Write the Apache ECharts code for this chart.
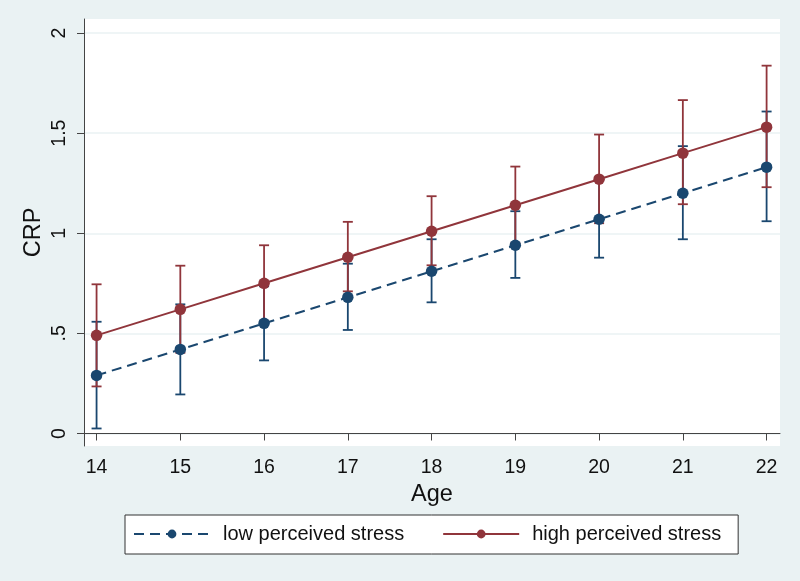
<!DOCTYPE html>
<html>
<head>
<meta charset="utf-8">
<script src="https://cdn.jsdelivr.net/npm/echarts@6/dist/echarts.min.js"></script>
<style>
  html, body { margin: 0; padding: 0; background: #eaf2f3; }
  #chart { width: 800px; height: 581px; }
</style>
</head>
<body>
<div id="chart"></div>
<script>
// data
const ages = [14, 15, 16, 17, 18, 19, 20, 21, 22]
const lowMean = [0.29, 0.42, 0.55, 0.68, 0.81, 0.94, 1.07, 1.20, 1.33]
const lowLower = [0.025, 0.195, 0.365, 0.517, 0.655, 0.777, 0.878, 0.97, 1.06]
const lowUpper = [0.558, 0.645, 0.735, 0.848, 0.97, 1.11, 1.268, 1.435, 1.608]
const highMean = [0.49, 0.62, 0.75, 0.88, 1.01, 1.14, 1.27, 1.40, 1.53]
const highLower = [0.235, 0.403, 0.56, 0.71, 0.84, 0.95, 1.05, 1.145, 1.23]
const highUpper = [0.745, 0.838, 0.94, 1.057, 1.185, 1.333, 1.493, 1.665, 1.837]
const yTicks = [0, 0.5, 1, 1.5, 2]

const navy = '#1a476f'
const maroon = '#90353b'
const font = 'Liberation Sans, Arial, Helvetica, sans-serif'

function capSeries(lower, upper, color) {
  return {
    type: 'custom',
    silent: true,
    z: 1,
    data: ages.map((a, i) => [a, lower[i], upper[i]]),
    renderItem(params, api) {
      const lo = api.coord([api.value(0), api.value(1)])
      const hi = api.coord([api.value(0), api.value(2)])
      const w = 5
      const style = { stroke: color, lineWidth: 1.8 }
      return {
        type: 'group',
        children: [
          { type: 'line', shape: { x1: lo[0], y1: lo[1], x2: hi[0], y2: hi[1] }, style },
          { type: 'line', shape: { x1: lo[0] - w, y1: lo[1], x2: lo[0] + w, y2: lo[1] }, style },
          { type: 'line', shape: { x1: hi[0] - w, y1: hi[1], x2: hi[0] + w, y2: hi[1] }, style }
        ]
      }
    }
  }
}

const chart = echarts.init(document.getElementById('chart'))
chart.setOption({
  backgroundColor: '#eaf2f3',
  animation: false,
  textStyle: { fontFamily: font },
  grid: {
    left: 84, top: 19, right: 20, bottom: 135,
    show: true, backgroundColor: '#fff', borderWidth: 0
  },
  legend: {
    data: ['low perceived stress', 'high perceived stress'],
    left: 125, top: 515,
    orient: 'horizontal',
    padding: [9, 17, 10, 8],
    itemWidth: 76, itemHeight: 11, itemGap: 38,
    backgroundColor: '#fff',
    borderColor: '#333', borderWidth: 1, borderRadius: 0,
    textStyle: { fontSize: 20, color: '#111', fontFamily: font, padding: [0, 0, 0, 8] }
  },
  xAxis: {
    type: 'value',
    min: 13.85, max: 22.16,
    name: 'Age', nameLocation: 'middle', nameGap: 33,
    nameTextStyle: { fontSize: 23.5, color: '#111' },
    axisLine: { show: true, lineStyle: { color: '#444', width: 1 } },
    axisTick: { show: true, length: 7, customValues: ages, lineStyle: { color: '#444' } },
    axisLabel: { customValues: ages, fontSize: 19.5, color: '#111', margin: 12 },
    splitLine: { show: false }
  },
  yAxis: {
    type: 'value',
    min: -0.0625, max: 2.07,
    name: 'CRP', nameLocation: 'middle', nameGap: 38, nameMoveOverlap: false,
    nameTextStyle: { fontSize: 23.5, color: '#111' },
    axisLine: { show: true, lineStyle: { color: '#444', width: 1 } },
    axisTick: { show: true, length: 7, customValues: yTicks, lineStyle: { color: '#444' } },
    axisLabel: {
      customValues: yTicks, fontSize: 19.5, color: '#111', margin: 14, rotate: 90,
      formatter: v => String(v).replace(/^0\./, '.')
    },
    splitLine: { show: true, lineStyle: { color: '#eaf2f3', width: 1.5 } }
  },
  series: [
    capSeries(lowLower, lowUpper, navy),
    capSeries(highLower, highUpper, maroon),
    {
      name: 'low perceived stress',
      type: 'line',
      z: 3,
      data: ages.map((a, i) => [a, lowMean[i]]),
      symbol: 'circle', symbolSize: 11.5,
      itemStyle: { color: navy },
      lineStyle: { color: navy, width: 2, type: [10, 6] }
    },
    {
      name: 'high perceived stress',
      type: 'line',
      z: 4,
      data: ages.map((a, i) => [a, highMean[i]]),
      symbol: 'circle', symbolSize: 11.5,
      itemStyle: { color: maroon },
      lineStyle: { color: maroon, width: 2 }
    }
  ]
})
</script>
</body>
</html>
